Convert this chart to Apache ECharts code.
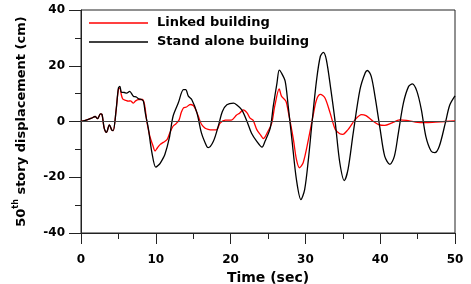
<!DOCTYPE html>
<html>
<head>
<meta charset="utf-8">
<script src="https://cdn.jsdelivr.net/npm/echarts@6/dist/echarts.min.js"></script>
<style>html,body{margin:0;padding:0;background:#fff}#c{width:471px;height:284px}</style>
</head>
<body>
<div id="c"></div>
<script>
const seriesNames = ['Linked building', 'Stand alone building'];
const xTicks = [0, 10, 20, 30, 40, 50];
const yTicks = [-40, -20, 0, 20, 40];

const standAloneT = [0,0.8,1.4,1.9,2.2,2.6,2.8,3.1,3.4,3.8,4.1,4.3,4.7,5.0,5.2,5.4,5.8,6.1,6.5,7.0,7.4,7.7,8.1,8.35,8.6,9.0,9.45,10.0,10.3,10.6,11.2,11.8,12.3,13.0,13.7,14.0,14.35,14.8,15.5,16.1,16.8,17.0,17.7,18.4,18.9,19.5,20.4,20.8,21.5,22.2,22.8,23.5,24.2,24.6,25.3,25.7,26.2,26.5,26.8,27.3,27.7,28.2,28.8,29.4,29.9,30.4,30.9,31.5,32.0,32.4,32.8,33.4,34.0,34.6,35.2,35.7,36.4,37.3,38.0,38.3,38.8,39.3,40.0,40.6,41.3,41.9,42.4,43.1,43.8,44.3,44.9,45.5,46.1,46.8,47.3,47.9,48.7,49.3,50.0];
const standAloneV = [0,0.6,1.2,1.8,1.0,2.7,2.6,-2.4,-3.9,-1.2,-3.0,-3.3,4.2,12.0,12.6,10.5,10.4,10.2,10.8,9.1,8.8,8.1,7.9,7.2,3.0,-2.4,-10.7,-16.4,-15.8,-14.9,-11.9,-6.0,1.8,6.6,11.4,11.4,9.1,7.9,3.1,-4.1,-8.9,-9.4,-7.1,-1.2,3.6,6.0,6.6,6.0,4.2,0,-4.2,-7.1,-9.2,-7.1,-2.4,5.4,13.8,18.4,17.4,14.4,5.5,-6.5,-20.8,-28.0,-24.4,-13.6,0,15.0,23.4,24.8,22.2,11.5,-0.6,-14.8,-21.2,-17.2,-4.0,11.5,17.5,18.3,16.2,9.1,-2.9,-12.4,-15.4,-12.4,-4.6,6.6,12.6,13.5,10.9,4.3,-5.3,-10.6,-11.2,-8.9,-0.6,5.9,9.2];

const linkedT = [0,0.8,1.4,1.9,2.2,2.6,2.8,3.1,3.4,3.8,4.1,4.3,4.7,5.0,5.2,5.4,5.6,6.0,6.3,6.6,7.0,7.3,7.7,8.2,8.5,8.8,9.2,9.6,9.9,10.2,10.6,11.0,11.5,11.8,12.3,12.7,13.1,13.4,13.7,14.1,14.6,15.0,15.3,15.7,16.1,16.6,17.0,17.5,18.1,18.6,19.3,20.1,20.8,21.2,21.7,22.2,22.6,23.0,23.5,24.0,24.4,25.0,25.5,25.9,26.5,26.8,27.4,27.7,28.4,28.8,29.2,29.7,30.4,31.1,31.5,32.0,32.6,33.3,34.0,34.6,35.0,35.7,36.0,36.6,37.5,38.1,38.9,39.8,40.6,41.5,42.6,43.5,44.7,46.0,47.4,48.7,50.0];
const linkedV = [0,0.6,1.2,1.8,1.0,2.7,2.5,-2.4,-3.9,-1.2,-3.0,-3.3,4.2,11.5,12.0,9.5,8.0,7.6,7.3,7.4,6.6,7.4,7.9,7.9,6.0,0,-5.3,-8.5,-10.6,-9.5,-8.2,-7.5,-6.5,-4.6,-1.7,-0.8,0.5,3.2,4.9,5.2,6.1,5.7,4.5,1.8,-1.0,-2.4,-2.8,-3.0,-3.0,-0.6,0.5,0.5,2.3,3.0,4.2,3.1,1.2,0.5,-2.9,-4.8,-6.1,-3.5,-0.6,5.5,11.7,9.1,7.3,3.6,-6.5,-13.6,-16.6,-14.8,-6.5,3.1,7.9,9.7,8.5,3.1,-2.9,-4.4,-4.6,-2.9,-1.8,0.5,2.5,2.1,0.4,-1.1,-1.4,-0.6,0.6,0.4,-0.2,-0.4,-0.2,0,0.2];

const zip = (t, v) => t.map((x, i) => [x, v[i]]);
const FONT = '"DejaVu Sans", sans-serif';

const chart = echarts.init(document.getElementById('c'), null, {renderer: 'canvas'});
chart.setOption({
  animation: false,
  backgroundColor: '#fff',
  grid: {left: 81, right: 16, top: 10, bottom: 51, containLabel: false, outerBoundsMode: 'none',
    show: true, borderColor: '#222', borderWidth: 1},
  legend: {
    data: seriesNames,
    orient: 'vertical', left: 84, top: 11,
    icon: 'rect', itemWidth: 59, itemHeight: 1.4, itemGap: 5,
    textStyle: {fontFamily: FONT, fontWeight: 'bold', fontSize: 13, lineHeight: 14, color: '#000', padding: [0, 0, 0, 4]}
  },
  xAxis: {
    type: 'value', min: 0, max: 50, interval: 10,
    axisLine: {onZero: false, lineStyle: {color: '#222', width: 1}},
    axisTick: {show: true, inside: false, length: 11, lineStyle: {color: '#222'}},
    minorTick: {show: true, splitNumber: 2, length: 6, lineStyle: {color: '#222'}},
    splitLine: {show: false},
    axisLabel: {margin: 21, fontFamily: FONT, fontWeight: 'bold', fontSize: 12, color: '#000',
      formatter: v => xTicks.includes(v) ? String(v) : ''},
    name: 'Time (sec)', nameLocation: 'middle', nameGap: 34,
    nameTextStyle: {fontFamily: FONT, fontWeight: 'bold', fontSize: 14, color: '#000'}
  },
  yAxis: {
    type: 'value', min: -40, max: 40, interval: 20,
    axisLine: {show: true, lineStyle: {color: '#222', width: 1}},
    axisTick: {show: true, inside: false, length: 12, lineStyle: {color: '#222'}},
    minorTick: {show: true, splitNumber: 2, length: 6, lineStyle: {color: '#222'}},
    splitLine: {show: false},
    axisLabel: {margin: 16, fontFamily: FONT, fontWeight: 'bold', fontSize: 12, color: '#000',
      formatter: v => yTicks.includes(v) ? String(v) : ''},
    name: '{a|50}{s|th}{a| story displacement (cm)}',
    nameLocation: 'middle', nameGap: 53, nameRotate: 90,
    nameTextStyle: {
      fontFamily: FONT, fontWeight: 'bold', fontSize: 13, color: '#000',
      rich: {
        a: {fontFamily: FONT, fontWeight: 'bold', fontSize: 13, color: '#000', lineHeight: 16, verticalAlign: 'bottom'},
        s: {fontFamily: FONT, fontWeight: 'bold', fontSize: 8, color: '#000', lineHeight: 16, verticalAlign: 'top'}
      }
    }
  },
  series: [
    {
      name: seriesNames[0], type: 'line', data: zip(linkedT, linkedV),
      symbol: 'none', smooth: 0.3, z: 3,
      lineStyle: {color: '#ff0000', width: 1.3}, itemStyle: {color: '#ff0000'},
      markLine: {silent: true, symbol: 'none', label: {show: false},
        lineStyle: {color: '#444', type: 'solid', width: 1}, data: [{yAxis: 0}]}
    },
    {
      name: seriesNames[1], type: 'line', data: zip(standAloneT, standAloneV),
      symbol: 'none', smooth: 0.3, z: 4,
      lineStyle: {color: '#000', width: 1.3}, itemStyle: {color: '#000'}
    }
  ]
});
</script>
</body>
</html>
